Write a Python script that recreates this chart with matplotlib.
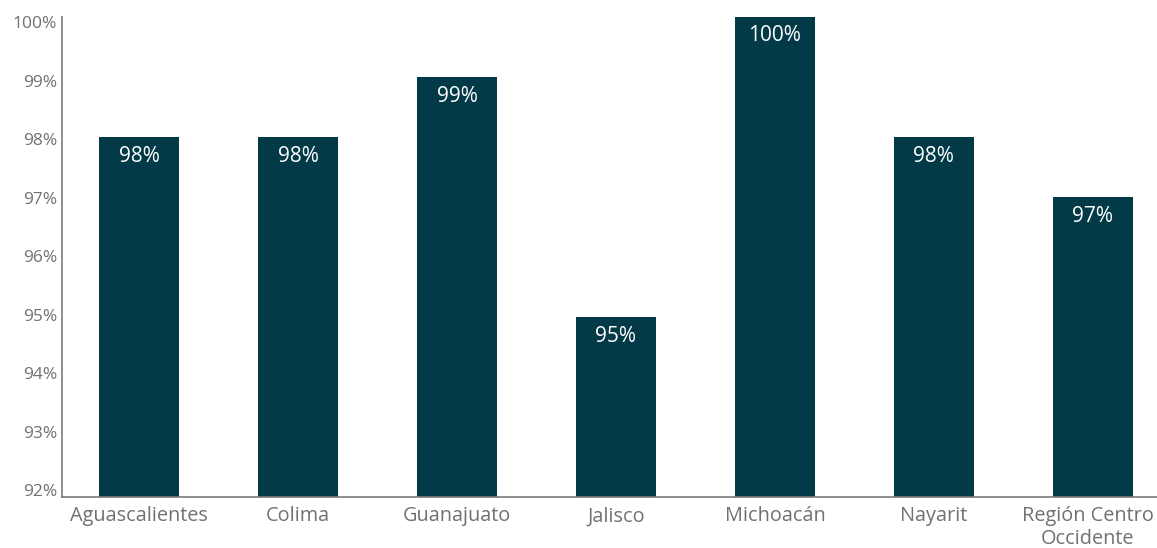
import matplotlib
matplotlib.use("Agg")
import matplotlib.pyplot as plt
from matplotlib.transforms import ScaledTranslation

categories = ["Aguascalientes", "Colima", "Guanajuato", "Jalisco", "Michoacán", "Nayarit", "Región Centro\nOccidente"]
values = [98, 98, 99, 95, 100, 98, 97]
labels = ["98%", "98%", "99%", "95%", "100%", "98%", "97%"]
yticks = [92, 93, 94, 95, 96, 97, 98, 99, 100]

plt.rcParams['font.family'] = ['Open Sans', 'DejaVu Sans']

fig = plt.figure(figsize=(11.57, 5.48), dpi=100)
ax = fig.add_axes([0.054, 0.0925, 0.946, 0.8765])

bar_color = "#023a48"
x = list(range(len(categories)))
ax.bar(x, [v - 92 for v in values], bottom=92, width=0.5, color=bar_color)

for xi, v, lab in zip(x, values, labels):
    ax.annotate(lab, (xi, v), xytext=(0, -19), textcoords="offset pixels",
                ha="center", va="center", color="white", fontsize=15)

ax.set_ylim(92, 100)
ax.set_xlim(-0.481, 6.403)
ax.set_yticks(yticks)
ax.set_yticklabels([f"{t}%" for t in yticks])
ax.set_xticks(x)
ax.set_xticklabels(categories, linespacing=1.2)

gray = "#7a7a7a"
ax.tick_params(axis="both", length=0, colors="#717171")
ax.tick_params(axis="y", pad=4, labelsize=12.5)
ax.tick_params(axis="x", pad=6.5, labelsize=14.3)

# last category label: nudge left so it stays inside the figure
last = ax.get_xticklabels()[-1]
last.set_transform(last.get_transform() + ScaledTranslation(-5 / 100, 0, fig.dpi_scale_trans))

# slight compression of y tick label positions, as in the reference
for t, lab in zip(yticks, ax.get_yticklabels()):
    dy = 5 - (100 - t) * 1.5  # pixels downward
    lab.set_transform(lab.get_transform() + ScaledTranslation(0, -dy / 100, fig.dpi_scale_trans))

for s in ["top", "right"]:
    ax.spines[s].set_visible(False)
for s in ["left", "bottom"]:
    ax.spines[s].set_color(gray)
    ax.spines[s].set_linewidth(1.2)

fig.savefig("out.png", dpi=100)
